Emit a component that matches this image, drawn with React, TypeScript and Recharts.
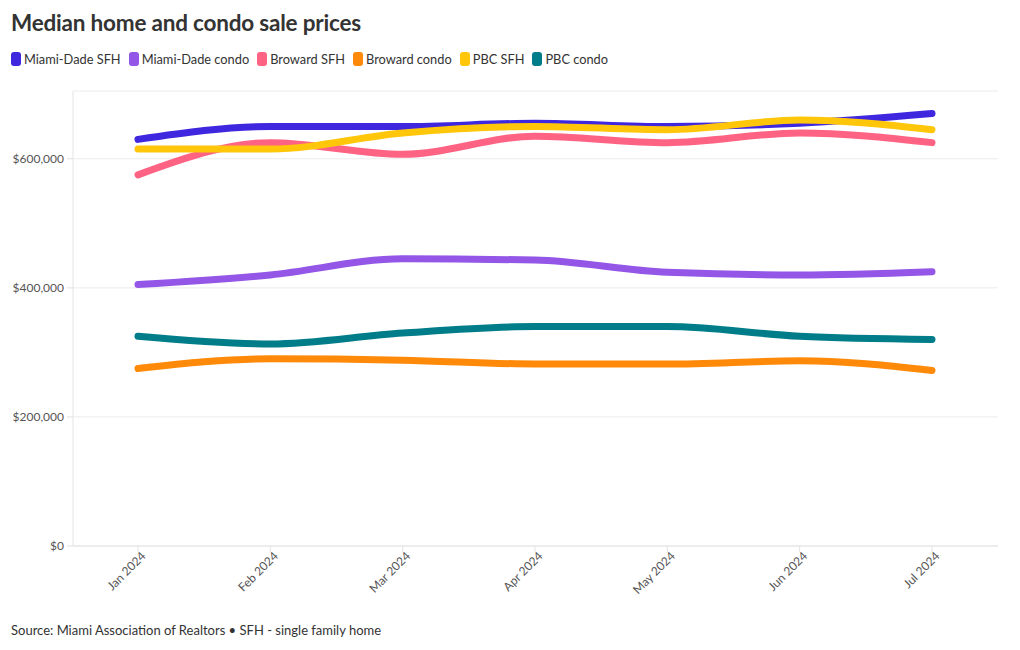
import React from "react";
import { LineChart, Line, XAxis, YAxis, CartesianGrid } from "recharts";

const months = ["Jan 2024", "Feb 2024", "Mar 2024", "Apr 2024", "May 2024", "Jun 2024", "Jul 2024"];
const miamiDadeSFH = [630000, 650000, 650000, 655000, 650000, 655000, 670000];
const miamiDadeCondo = [405000, 420000, 445000, 443000, 424000, 420000, 425000];
const browardSFH = [575000, 625000, 607000, 635000, 625000, 640000, 625000];
const browardCondo = [275000, 290000, 288000, 282000, 282000, 287000, 272000];
const pbcSFH = [615000, 615000, 640000, 650000, 645000, 660000, 645000];
const pbcCondo = [325000, 313000, 330000, 340000, 340000, 325000, 320000];
const yTicks = [0, 200000, 400000, 600000];

const series = [
  { key: "mdSFH", name: "Miami-Dade SFH", color: "#3f27e0", values: miamiDadeSFH },
  { key: "mdCondo", name: "Miami-Dade condo", color: "#9456e6", values: miamiDadeCondo },
  { key: "bSFH", name: "Broward SFH", color: "#ff6384", values: browardSFH },
  { key: "bCondo", name: "Broward condo", color: "#ff8a0a", values: browardCondo },
  { key: "pSFH", name: "PBC SFH", color: "#ffc60a", values: pbcSFH },
  { key: "pCondo", name: "PBC condo", color: "#007d89", values: pbcCondo },
];

const data = months.map((m, i) => {
  const row: Record<string, string | number> = { month: m };
  series.forEach((s) => (row[s.key] = s.values[i]));
  return row;
});

const font = "'Source Sans Pro', Lato, 'Noto Sans', sans-serif";

const fmt = (v: number) => "$" + v.toLocaleString("en-US");

const XTick = (props: any) => {
  const { x, y, payload } = props;
  return (
    <text
      x={x}
      y={y}
      transform={`rotate(-45 ${x} ${y})`}
      textAnchor="end"
      dy={8}
      dx={4}
      fontSize={12}
      fill="#555"
      fontFamily={font}
    >
      {payload.value}
    </text>
  );
};

export default function App() {
  return (
    <div style={{ position: "absolute", left: 0, top: 0, width: 1020, height: 650, background: "#fff", fontFamily: font }}>
      <div style={{ position: "absolute", left: 11, top: 9, fontSize: 22.5, fontWeight: 700, color: "#333", letterSpacing: -0.2 }}>
        Median home and condo sale prices
      </div>
      <div style={{ position: "absolute", left: 11, top: 51, display: "flex", fontSize: 12.8, color: "#333" }}>
        {series.map((s) => (
          <div key={s.key} style={{ display: "flex", alignItems: "center", marginRight: 8 }}>
            <span style={{ display: "inline-block", width: 10, height: 14, borderRadius: 3, background: s.color, marginRight: 3 }} />
            <span>{s.name}</span>
          </div>
        ))}
      </div>
      <div style={{ position: "absolute", left: 0, top: 80 }}>
        <LineChart width={1020} height={521} data={data} margin={{ top: 11, right: 22, bottom: 0, left: 0 }}>
          <CartesianGrid vertical={false} stroke="#ebebeb" />
          <XAxis
            dataKey="month"
            padding={{ left: 65, right: 66 }}
            height={55}
            stroke="#e3e3e3"
            tickLine={{ stroke: "#e3e3e3" }}
            tickSize={6}
            interval={0}
            tick={<XTick />}
          />
          <YAxis
            width={73}
            domain={[0, 705000]}
            ticks={yTicks}
            tickFormatter={fmt}
            stroke="#e3e3e3"
            tickSize={6}
            tickMargin={3}
            tick={{ fontSize: 12, fill: "#555", fontFamily: font }}
          />
          {series.map((s) => (
            <Line
              key={s.key}
              dataKey={s.key}
              name={s.name}
              type="monotone"
              stroke={s.color}
              strokeWidth={7}
              strokeLinecap="round"
              dot={false}
              activeDot={false}
              isAnimationActive={false}
            />
          ))}
        </LineChart>
      </div>
      <div style={{ position: "absolute", left: 11, top: 622, fontSize: 13, color: "#333" }}>
        Source: Miami Association of Realtors • SFH - single family home
      </div>
    </div>
  );
}
